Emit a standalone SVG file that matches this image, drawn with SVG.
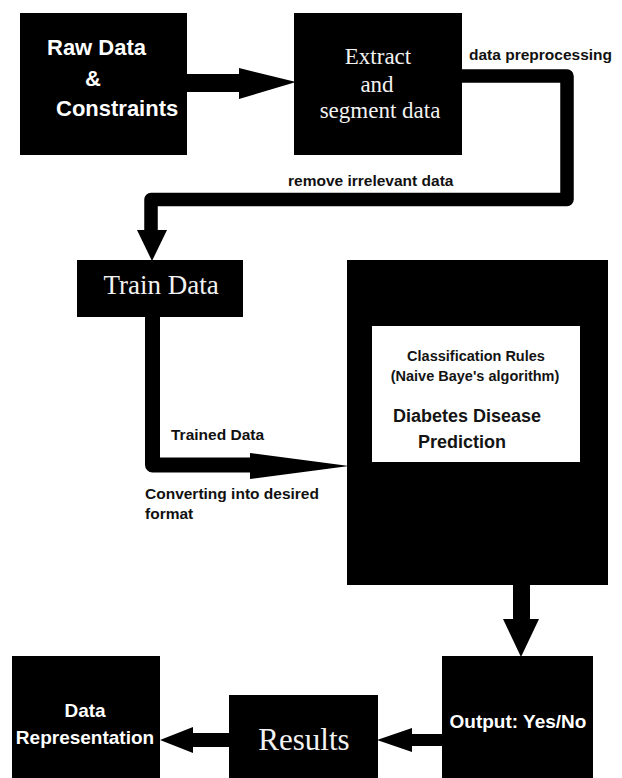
<svg xmlns="http://www.w3.org/2000/svg" width="622" height="778" viewBox="0 0 622 778">
<style>
.box{fill:#000}
.inner{fill:#fff}
.sansW{font-family:"Liberation Sans",Arial,sans-serif;font-weight:bold;fill:#fff}
.serifW{font-family:"Liberation Serif","Times New Roman",serif;fill:#f2f2f2}
.lbl{font-family:"Liberation Sans",Arial,sans-serif;font-weight:bold;font-size:15.5px;fill:#111}
.in{font-family:"Liberation Sans",Arial,sans-serif;font-weight:bold;fill:#141414}
.line{fill:none;stroke:#000;stroke-linejoin:round}
.head{fill:#000}
</style>
<rect width="622" height="778" fill="#fff"/>

<g id="connectors">
  <rect x="186" y="74" width="55" height="18" class="head"/>
  <polygon points="239,68 296,82 239,99" class="head"/>
  <polyline points="461,76 567,76 567,199.5 151,199.5 151,234" class="line" stroke-width="13.5"/>
  <polygon points="137,230 167,230 152,261" class="head"/>
  <polyline points="152.5,316 152.5,465 252,465" class="line" stroke-width="15"/>
  <polygon points="250,453 349,466 250,479" class="head"/>
  <rect x="513" y="584" width="17" height="37" class="head"/>
  <polygon points="503,619 539,619 521,657" class="head"/>
  <rect x="410" y="734" width="33" height="12" class="head"/>
  <polygon points="412,728 377,740 412,752" class="head"/>
  <rect x="191" y="733" width="39" height="14" class="head"/>
  <polygon points="193,727 160,740 193,753" class="head"/>
</g>

<g id="raw-data">
  <rect x="20" y="13" width="167" height="142" class="box"/>
  <text x="47" y="55" class="sansW" font-size="22">Raw Data</text>
  <text x="85" y="86" class="sansW" font-size="22">&amp;</text>
  <text x="56" y="116" class="sansW" font-size="22">Constraints</text>
</g>

<g id="extract">
  <rect x="294" y="13" width="168" height="142" class="box"/>
  <text x="378" y="64" class="serifW" font-size="23" text-anchor="middle">Extract</text>
  <text x="377" y="92" class="serifW" font-size="23" text-anchor="middle">and</text>
  <text x="380" y="118" class="serifW" font-size="23" text-anchor="middle">segment data</text>
</g>

<g id="labels">
  <text x="469" y="60" class="lbl">data preprocessing</text>
  <text x="288" y="186" class="lbl">remove irrelevant data</text>
  <text x="171" y="440" class="lbl">Trained Data</text>
  <text x="145" y="499" class="lbl">Converting into desired</text>
  <text x="145" y="519" class="lbl">format</text>
</g>

<g id="train-data">
  <rect x="77" y="260" width="166" height="57" class="box"/>
  <text x="161" y="294" class="serifW" font-size="27" text-anchor="middle">Train Data</text>
</g>

<g id="classifier">
  <rect x="347" y="260" width="261" height="325" class="box"/>
  <rect x="372" y="326" width="208" height="136" class="inner"/>
  <text x="476" y="361" class="in" font-size="14.5" text-anchor="middle">Classification Rules</text>
  <text x="475" y="381" class="in" font-size="14.5" text-anchor="middle">(Naive Baye's algorithm)</text>
  <text x="393" y="422" class="in" font-size="18">Diabetes Disease</text>
  <text x="418" y="448" class="in" font-size="18">Prediction</text>
</g>

<g id="output">
  <rect x="442" y="656" width="151" height="122" class="box"/>
  <text x="518" y="728" class="sansW" font-size="19" text-anchor="middle">Output: Yes/No</text>
</g>

<g id="results">
  <rect x="229" y="695" width="149" height="83" class="box"/>
  <text x="304" y="750" class="serifW" font-size="31" text-anchor="middle">Results</text>
</g>

<g id="data-representation">
  <rect x="12" y="656" width="148" height="122" class="box"/>
  <text x="85" y="717" class="sansW" font-size="19" text-anchor="middle">Data</text>
  <text x="85" y="744" class="sansW" font-size="19" text-anchor="middle">Representation</text>
</g>
</svg>
